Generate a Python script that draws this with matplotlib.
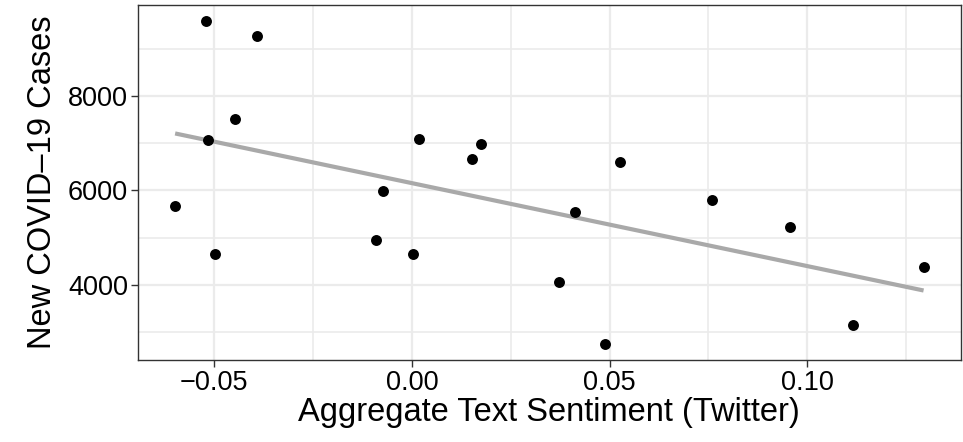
import numpy as np
import matplotlib
matplotlib.use("Agg")
import matplotlib.pyplot as plt
from matplotlib.ticker import MultipleLocator

plt.rcParams['font.family'] = ['Liberation Sans', 'DejaVu Sans']

sentiment = [-0.0522, -0.0391, -0.0448, -0.0517, 0.0017,
             -0.0599, -0.0498, -0.0073, -0.0091, 0.0003,
             0.0175, 0.0152, 0.0525, 0.0413, 0.0371, 0.0489,
             0.0760, 0.0957, 0.1294, 0.1116]
cases = [9584, 9267, 7514, 7071, 7098,
         5662, 4657, 5979, 4952, 4663,
         6993, 6663, 6612, 5535, 4051, 2748,
         5797, 5219, 4380, 3155]

x = np.array(sentiment)
y = np.array(cases)

fig = plt.figure(figsize=(9.63, 4.42), dpi=100)
ax = fig.add_axes([137.7/963, 1-360/442, (961-137.7)/963, (360-5.3)/442])

# grid like theme_bw
ax.xaxis.set_major_locator(MultipleLocator(0.05))
ax.xaxis.set_minor_locator(MultipleLocator(0.025))
ax.yaxis.set_major_locator(MultipleLocator(2000))
ax.yaxis.set_minor_locator(MultipleLocator(1000))
ax.grid(which='major', color='#EBEBEB', linewidth=1.6)
ax.grid(which='minor', color='#EBEBEB', linewidth=1.2)
ax.set_axisbelow(True)

# linear fit (geom_smooth method = lm, no se)
slope, intercept = np.polyfit(x, y, 1)
xs = np.linspace(x.min(), x.max(), 50)
ax.plot(xs, intercept + slope*xs, color='#A9A9A9', linewidth=3, solid_capstyle='butt', zorder=2)

ax.scatter(x, y, s=62, color='black', zorder=3, linewidths=0)

xr = x.max() - x.min()
yr = y.max() - y.min()
ax.set_xlim(x.min() - 0.05*xr, x.max() + 0.05*xr)
ax.set_ylim(y.min() - 0.05*yr, y.max() + 0.05*yr)

ax.set_xticks([-0.05, 0.0, 0.05, 0.10])
ax.set_xticklabels(['\u22120.05', '0.00', '0.05', '0.10'])
ax.set_yticks([4000, 6000, 8000])
ax.set_yticklabels(['4000', '6000', '8000'])

for s in ax.spines.values():
    s.set_color('#333333')
    s.set_linewidth(1.0)
ax.tick_params(which='major', length=5, width=1.0, color='#333333', labelsize=19.5, pad=2)
ax.tick_params(which='minor', length=0)

ax.set_xlabel('Aggregate Text Sentiment (Twitter)', fontsize=23.5, labelpad=1)
ax.set_ylabel('New COVID\u201319 Cases', fontsize=23.5, labelpad=7)

fig.savefig('out.png', dpi=100)
